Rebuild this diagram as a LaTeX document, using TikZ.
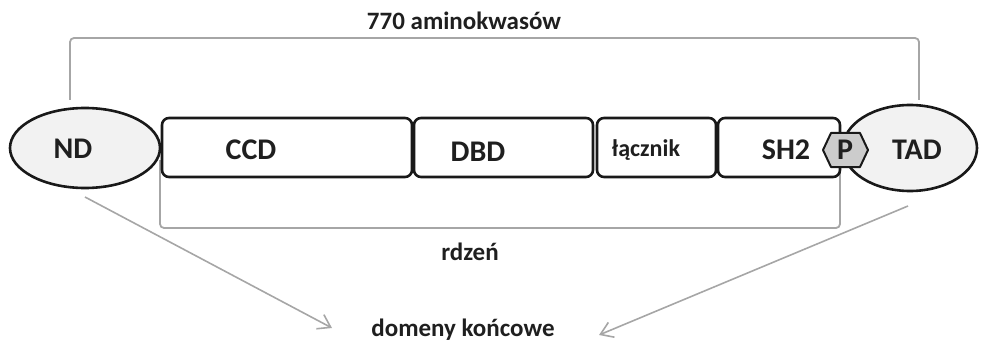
\documentclass[tikz,border=0pt]{standalone}
\usepackage{fontspec}
\setmainfont{Carlito}
\usetikzlibrary{arrows.meta}
\definecolor{brk}{HTML}{A6A6A6}
\definecolor{ellfill}{HTML}{F2F2F2}
\definecolor{pfill}{HTML}{CCCCCC}
\begin{document}
\begin{tikzpicture}[x=1pt,y=-1pt,
  bracket/.style={draw=brk,line width=1.8pt,rounded corners=4pt},
  dombox/.style={draw=black!90,fill=white,line width=2.6pt,rounded corners=7pt,inner sep=0pt},
  domell/.style={draw=black!90,fill=ellfill,line width=2.6pt},
  biglab/.style={font=\bfseries\fontsize{30}{32}\selectfont,text=black!88},
  midlab/.style={font=\bfseries\fontsize{25}{27}\selectfont,text=black!88},
  smalllab/.style={font=\bfseries\fontsize{24}{26}\selectfont,text=black!88},
  grayarrow/.style={draw=brk,line width=1.6pt,-{Straight Barb[length=12pt,width=16pt,line width=1.6pt]}}]
\useasboundingbox (0,0) rectangle (982,342);
% top bracket
\draw[bracket] (70,100) -- (70,38) -- (919,38) -- (919,100);
\node[midlab] (total) at (464,21) {770 aminokwasów};
% bottom bracket
\draw[bracket] (160,160) -- (160,228) -- (840,228) -- (840,160);
\node[midlab] (core) at (470,252) {rdzeń};
% domain boxes
\draw[dombox] (162,118) rectangle (412,177);
\draw[dombox] (414,118) rectangle (593,177);
\draw[dombox] (597,118) rectangle (716,177);
\draw[dombox] (718,118) rectangle (840,177);
\node[biglab] (ccd) at (251,150) {CCD};
\node[biglab] (dbd) at (478,152) {DBD};
\node[smalllab] (lacz) at (646,150) {łącznik};
\node[biglab] (sh2) at (786,150) {SH2};
% end domains
\draw[domell] (85,148) ellipse [x radius=75, y radius=40];
\node[biglab] (nd) at (73,149) {ND};
\draw[domell] (910,148) ellipse [x radius=67, y radius=43];
\node[biglab] (tad) at (917,150) {TAD};
% phosphate
\draw[draw=black!90,fill=pfill,line width=2pt,line join=round]
  (823,150) -- (831,133) -- (860,133) -- (868,150) -- (860,167) -- (831,167) -- cycle;
\node[biglab] (p) at (845,150) {P};
% bottom label and arrows
\node[midlab] (term) at (463,330) {domeny końcowe};
\coordinate (la) at (85,197);
\coordinate (lb) at (332,328);
\coordinate (ra) at (908,206);
\coordinate (rb) at (599,335);
\draw[grayarrow] (la) -- (lb);
\draw[grayarrow] (ra) -- (rb);
\end{tikzpicture}
\end{document}
